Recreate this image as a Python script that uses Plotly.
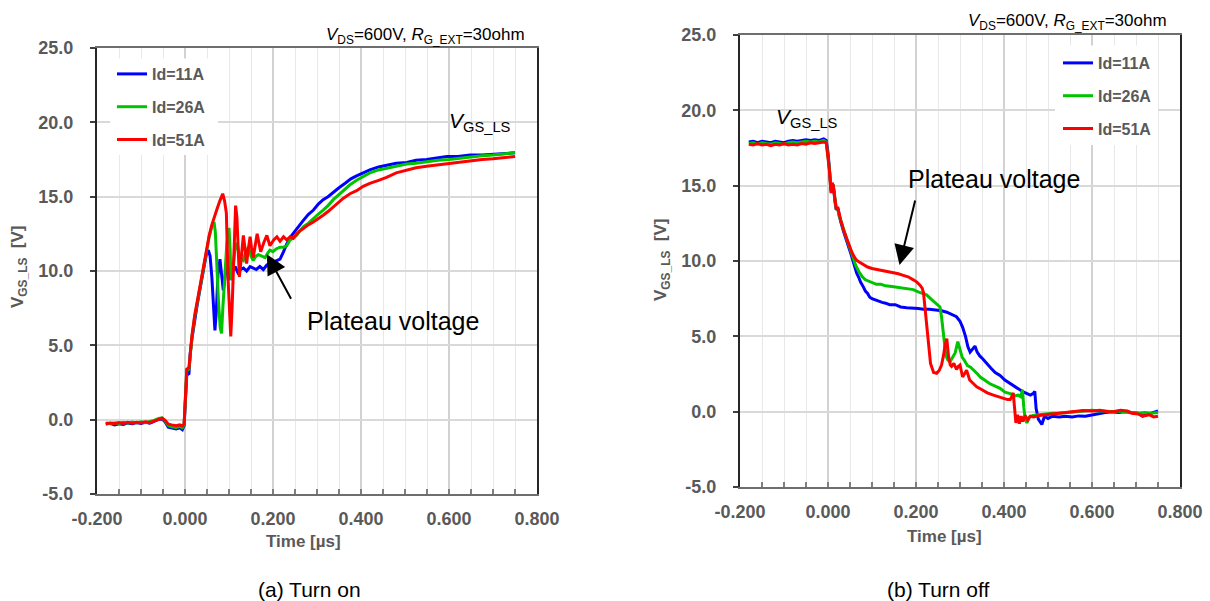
import plotly.graph_objects as go

# ---------------- DATA ----------------
# (a) Turn on : time [us], V_GS_LS [V]
t_on_11 = [-0.180, -0.170, -0.160, -0.150, -0.140, -0.130, -0.120, -0.110, -0.100, -0.090, -0.080, -0.070,
           -0.060, -0.052, -0.045, -0.038, -0.030, -0.020, -0.012, -0.006, -0.002, 0.001, 0.004, 0.009,
           0.012, 0.016, 0.022, 0.027, 0.033, 0.038, 0.044, 0.049, 0.053, 0.057, 0.061, 0.064, 0.068,
           0.071, 0.075, 0.0795, 0.083, 0.087, 0.091, 0.095, 0.100, 0.104, 0.109, 0.114, 0.120, 0.126,
           0.133, 0.140, 0.148, 0.155, 0.162, 0.170, 0.178, 0.186, 0.193, 0.200, 0.208, 0.216, 0.224,
           0.231, 0.240, 0.250, 0.260, 0.269, 0.280, 0.292, 0.303, 0.314, 0.325, 0.337, 0.350, 0.364,
           0.377, 0.390, 0.405, 0.420, 0.440, 0.458, 0.480, 0.504, 0.525, 0.549, 0.570, 0.595, 0.620,
           0.648, 0.675, 0.700, 0.725, 0.750]
v_on_11 = [-0.30, -0.25, -0.35, -0.28, -0.32, -0.22, -0.28, -0.20, -0.26, -0.18, -0.24, -0.12,
           0.02, 0.05, -0.15, -0.50, -0.55, -0.62, -0.55, -0.68, -0.40, 1.8, 3.0, 3.1,
           4.5, 5.5, 6.8, 7.6, 8.6, 9.4, 10.4, 11.2, 11.4, 11.0, 9.6, 8.0, 6.0,
           7.2, 9.8, 10.8, 10.0, 8.7, 9.6, 10.5, 10.2, 9.4, 10.0, 10.3, 9.9, 10.1,
           10.2, 10.0, 10.3, 10.2, 10.1, 10.3, 10.1, 10.4, 10.5, 10.6, 10.7, 10.8, 11.3,
           11.8, 12.3, 12.7, 13.1, 13.4, 13.8, 14.1, 14.5, 14.8, 15.0, 15.3, 15.6, 15.9,
           16.2, 16.4, 16.6, 16.8, 17.0, 17.1, 17.25, 17.3, 17.45, 17.5, 17.6, 17.7, 17.7,
           17.8, 17.8, 17.85, 17.9, 17.95]

t_on_26 = [-0.180, -0.170, -0.160, -0.150, -0.140, -0.130, -0.120, -0.110, -0.100, -0.090, -0.080, -0.070,
           -0.060, -0.052, -0.045, -0.038, -0.030, -0.020, -0.012, -0.006, -0.002, 0.001, 0.004, 0.009,
           0.012, 0.016, 0.022, 0.027, 0.033, 0.038, 0.044, 0.049, 0.055, 0.061, 0.066, 0.069, 0.072,
           0.076, 0.080, 0.083, 0.086, 0.090, 0.095, 0.100, 0.1025, 0.1045, 0.108, 0.1136, 0.118, 0.123,
           0.128, 0.1326, 0.138, 0.144, 0.150, 0.155, 0.161, 0.167, 0.175, 0.182, 0.188, 0.193, 0.200,
           0.208, 0.216, 0.224, 0.231, 0.239, 0.246, 0.254, 0.261, 0.270, 0.280, 0.290, 0.302, 0.314,
           0.325, 0.337, 0.348, 0.360, 0.375, 0.390, 0.405, 0.420, 0.440, 0.458, 0.480, 0.504, 0.525,
           0.549, 0.575, 0.600, 0.625, 0.648, 0.675, 0.700, 0.725, 0.750]
v_on_26 = [-0.22, -0.28, -0.22, -0.26, -0.18, -0.24, -0.16, -0.22, -0.15, -0.20, -0.12, -0.05,
           0.08, 0.12, -0.08, -0.40, -0.48, -0.52, -0.45, -0.55, -0.35, 2.0, 3.3, 3.4,
           4.6, 5.6, 6.9, 7.7, 8.7, 9.5, 10.5, 11.4, 12.3, 13.0, 13.3, 12.6, 10.5,
           8.0, 6.2, 5.8, 7.5, 9.8, 11.8, 12.9, 11.5, 9.4, 10.0, 11.4, 11.9, 11.2,
           10.8, 10.7, 11.3, 11.6, 11.0, 10.7, 11.0, 11.1, 11.0, 10.9, 11.2, 11.4, 11.3,
           11.5, 11.6, 11.6, 11.7, 12.1, 12.2, 12.4, 12.7, 13.0, 13.2, 13.5, 13.8, 14.1,
           14.4, 14.8, 15.1, 15.4, 15.8, 16.1, 16.35, 16.6, 16.8, 16.9, 17.05, 17.2, 17.25,
           17.35, 17.45, 17.5, 17.6, 17.65, 17.75, 17.8, 17.85, 17.95]

t_on_51 = [-0.180, -0.170, -0.160, -0.150, -0.140, -0.130, -0.120, -0.110, -0.100, -0.090, -0.080, -0.070,
           -0.060, -0.052, -0.045, -0.038, -0.030, -0.020, -0.012, -0.006, -0.002, 0.001, 0.004, 0.009,
           0.012, 0.016, 0.022, 0.027, 0.033, 0.038, 0.044, 0.049, 0.055, 0.061, 0.066, 0.072, 0.079,
           0.0857, 0.090, 0.094, 0.098, 0.101, 0.104, 0.107, 0.110, 0.113, 0.115, 0.118, 0.120, 0.1235,
           0.127, 0.1326, 0.136, 0.140, 0.144, 0.148, 0.151, 0.155, 0.160, 0.164, 0.168, 0.172, 0.179,
           0.186, 0.193, 0.202, 0.209, 0.216, 0.224, 0.231, 0.239, 0.246, 0.254, 0.261, 0.269, 0.280,
           0.2917, 0.303, 0.314, 0.325, 0.337, 0.348, 0.360, 0.375, 0.390, 0.405, 0.420, 0.440, 0.458,
           0.480, 0.504, 0.525, 0.549, 0.575, 0.600, 0.625, 0.648, 0.675, 0.700, 0.725, 0.750]
v_on_51 = [-0.28, -0.22, -0.26, -0.20, -0.25, -0.18, -0.24, -0.17, -0.22, -0.15, -0.20, -0.08,
           0.05, 0.10, -0.05, -0.30, -0.35, -0.40, -0.35, -0.42, -0.30, 2.2, 3.4, 3.5,
           4.7, 5.7, 7.0, 7.8, 8.8, 9.6, 10.6, 11.5, 12.4, 13.1, 13.6, 14.1, 14.7,
           15.2, 14.7, 13.9, 9.4, 7.0, 5.6, 7.5, 10.5, 13.5, 14.4, 13.6, 11.6, 9.6,
           10.6, 12.4, 11.6, 10.5, 11.5, 12.3, 11.6, 10.9, 11.8, 12.5, 11.9, 11.3, 11.9,
           12.4, 11.7, 12.1, 12.3, 12.0, 12.3, 12.1, 12.3, 12.2, 12.5, 12.7, 12.85, 13.1,
           13.3, 13.5, 13.75, 14.0, 14.3, 14.6, 14.9, 15.2, 15.4, 15.7, 15.9, 16.1, 16.3,
           16.6, 16.8, 16.95, 17.05, 17.15, 17.2, 17.3, 17.4, 17.5, 17.55, 17.6, 17.7]

# (b) Turn off : time [us], V_GS_LS [V]
t_off_11 = [-0.180, -0.170, -0.160, -0.150, -0.140, -0.130, -0.120, -0.110, -0.100, -0.090, -0.080, -0.070,
            -0.060, -0.050, -0.040, -0.030, -0.020, -0.010, -0.004, 0.000, 0.003, 0.007, 0.0095, 0.012,
            0.016, 0.019, 0.022, 0.025, 0.029, 0.036, 0.042, 0.048, 0.054, 0.059, 0.065, 0.070, 0.074,
            0.080, 0.085, 0.090, 0.095, 0.100, 0.108, 0.115, 0.123, 0.131, 0.140, 0.153, 0.165, 0.179,
            0.190, 0.205, 0.217, 0.230, 0.245, 0.258, 0.270, 0.282, 0.292, 0.300, 0.306, 0.3125, 0.318,
            0.323, 0.328, 0.334, 0.339, 0.345, 0.352, 0.360, 0.370, 0.380, 0.391, 0.402, 0.414, 0.425,
            0.436, 0.445, 0.452, 0.460, 0.466, 0.470, 0.473, 0.478, 0.486, 0.492, 0.500, 0.510, 0.525,
            0.540, 0.555, 0.570, 0.585, 0.600, 0.615, 0.630, 0.645, 0.660, 0.675, 0.690, 0.705, 0.715,
            0.725, 0.735, 0.745, 0.750]
v_off_11 = [17.9, 17.95, 17.85, 17.95, 17.9, 17.85, 17.95, 17.9, 17.85, 17.95, 18.0, 17.95,
            18.0, 18.05, 18.0, 18.05, 18.0, 18.1, 18.0, 17.2, 16.2, 14.7, 15.1, 15.0,
            13.9, 13.4, 13.5, 13.0, 12.6, 11.9, 11.4, 10.9, 10.3, 9.8, 9.2, 8.9, 8.6,
            8.3, 8.0, 7.85, 7.6, 7.5, 7.4, 7.3, 7.25, 7.2, 7.1, 7.1, 6.95, 6.9,
            6.9, 6.85, 6.8, 6.8, 6.75, 6.7, 6.6, 6.45, 6.3, 6.0, 5.6, 5.0, 4.3,
            3.95, 4.1, 4.35, 3.95, 3.7, 3.5, 3.2, 2.9, 2.6, 2.4, 2.1, 1.85, 1.65,
            1.45, 1.3, 1.2, 1.1, 1.2, 1.35, 0.2, -0.5, -0.85, -0.3, -0.45, -0.3, -0.35,
            -0.3, -0.35, -0.28, -0.3, -0.2, -0.15, -0.05, 0.0, -0.05, 0.0, -0.05, -0.1, -0.3,
            -0.2, -0.1, -0.05, 0.05]

t_off_26 = [-0.180, -0.170, -0.160, -0.150, -0.140, -0.130, -0.120, -0.110, -0.100, -0.090, -0.080, -0.070,
            -0.060, -0.050, -0.040, -0.030, -0.020, -0.010, -0.004, 0.000, 0.003, 0.007, 0.0095, 0.012,
            0.016, 0.019, 0.022, 0.025, 0.029, 0.036, 0.042, 0.048, 0.054, 0.059, 0.063, 0.070, 0.078,
            0.085, 0.093, 0.100, 0.110, 0.120, 0.131, 0.145, 0.158, 0.170, 0.182, 0.194, 0.205, 0.215,
            0.224, 0.235, 0.245, 0.2545, 0.258, 0.261, 0.264, 0.268, 0.272, 0.277, 0.283, 0.289, 0.295,
            0.300, 0.305, 0.310, 0.317, 0.324, 0.332, 0.340, 0.346, 0.356, 0.368, 0.380, 0.391, 0.402,
            0.414, 0.425, 0.432, 0.438, 0.442, 0.445, 0.448, 0.452, 0.458, 0.466, 0.480, 0.495, 0.510,
            0.525, 0.540, 0.555, 0.570, 0.585, 0.600, 0.615, 0.630, 0.645, 0.660, 0.675, 0.690, 0.705,
            0.720, 0.735, 0.750]
v_off_26 = [17.8, 17.85, 17.75, 17.85, 17.8, 17.75, 17.85, 17.8, 17.75, 17.85, 17.9, 17.85,
            17.9, 17.95, 17.9, 17.95, 17.9, 18.0, 17.9, 17.1, 16.2, 14.6, 15.1, 15.0,
            13.9, 13.4, 13.55, 13.0, 12.7, 12.0, 11.5, 11.0, 10.5, 10.1, 9.7, 9.3, 8.95,
            8.75, 8.65, 8.6, 8.45, 8.45, 8.35, 8.3, 8.25, 8.2, 8.15, 8.1, 7.95, 7.85,
            7.75, 7.45, 7.2, 6.95, 6.3, 5.4, 4.5, 3.7, 3.45, 3.3, 3.6, 3.9, 4.65,
            4.1, 3.6, 3.4, 3.05, 2.95, 2.75, 2.5, 2.3, 2.1, 1.85, 1.7, 1.55, 1.3,
            1.2, 1.05, 1.1, 1.0, 1.45, 0.3, -0.5, -0.75, -0.35, -0.25, -0.2, -0.15, -0.1,
            -0.1, -0.05, 0.0, 0.05, 0.05, 0.1, 0.05, 0.05, 0.0, 0.05, 0.0, -0.05, -0.1,
            -0.05, -0.1, -0.05]

t_off_51 = [-0.180, -0.170, -0.160, -0.150, -0.140, -0.130, -0.120, -0.110, -0.100, -0.090, -0.080, -0.070,
            -0.060, -0.050, -0.040, -0.030, -0.020, -0.010, -0.004, 0.000, 0.003, 0.007, 0.0095, 0.012,
            0.016, 0.019, 0.022, 0.025, 0.029, 0.036, 0.042, 0.048, 0.054, 0.059, 0.065, 0.070, 0.080,
            0.090, 0.100, 0.110, 0.118, 0.130, 0.146, 0.160, 0.171, 0.182, 0.194, 0.202, 0.209, 0.214,
            0.217, 0.220, 0.223, 0.228, 0.233, 0.240, 0.247, 0.253, 0.258, 0.263, 0.266, 0.270, 0.274,
            0.278, 0.281, 0.286, 0.292, 0.296, 0.300, 0.306, 0.315, 0.322, 0.330, 0.338, 0.350, 0.362,
            0.376, 0.390, 0.400, 0.408, 0.414, 0.418, 0.421, 0.424, 0.427, 0.431, 0.435, 0.439, 0.443,
            0.448, 0.454, 0.460, 0.467, 0.480, 0.495, 0.510, 0.525, 0.542, 0.560, 0.580, 0.600, 0.618,
            0.635, 0.650, 0.665, 0.680, 0.690, 0.705, 0.715, 0.730, 0.740, 0.750]
v_off_51 = [17.75, 17.7, 17.8, 17.7, 17.75, 17.65, 17.75, 17.7, 17.8, 17.7, 17.75, 17.7,
            17.8, 17.75, 17.85, 17.8, 17.85, 17.9, 17.85, 17.0, 16.1, 14.5, 15.2, 15.0,
            13.9, 13.4, 13.6, 13.1, 12.7, 12.0, 11.5, 11.1, 10.6, 10.3, 10.05, 9.95, 9.75,
            9.6, 9.5, 9.45, 9.4, 9.3, 9.25, 9.15, 9.05, 8.95, 8.75, 8.6, 8.4, 8.2,
            7.9, 7.0, 5.8, 4.5, 3.2, 2.6, 2.55, 2.75, 3.1, 3.8, 4.4, 4.85, 3.65,
            3.1, 3.0, 3.2, 2.8, 3.0, 3.1, 2.3, 2.75, 2.1, 1.9, 1.65, 1.45, 1.25,
            1.1, 0.95, 0.85, 0.8, 0.8, 1.0, 1.25, 0.2, -0.75, -0.2, -0.8, -0.3, -0.65,
            -0.25, -0.55, -0.3, -0.35, -0.25, -0.2, -0.15, -0.1, 0.0, 0.05, 0.08, 0.05, 0.1,
            0.0, 0.0, 0.1, 0.05, -0.1, -0.15, -0.3, -0.2, -0.35, -0.3]

series_names = ["Id=11A", "Id=26A", "Id=51A"]
series_colors = ["#0000FF", "#00C400", "#FF0000"]

x_tickvals = [-0.2, 0.0, 0.2, 0.4, 0.6, 0.8]
x_ticktext = ["-0.200", "0.000", "0.200", "0.400", "0.600", "0.800"]
y_tickvals = [-5, 0, 5, 10, 15, 20, 25]
y_ticktext = ["-5.0", "0.0", "5.0", "10.0", "15.0", "20.0", "25.0"]

# ---------------- FIGURE ----------------
W, H = 1210, 601
FONT = "Liberation Sans, Arial, sans-serif"
GRAY = "#595959"


def px(x):
    return x / W


def py(y):
    return 1 - y / H


fig = go.Figure()

on_series = [(t_on_11, v_on_11), (t_on_26, v_on_26), (t_on_51, v_on_51)]
off_series = [(t_off_11, v_off_11), (t_off_26, v_off_26), (t_off_51, v_off_51)]

for i, (t, v) in enumerate(on_series):
    fig.add_trace(go.Scatter(x=t, y=v, mode="lines", name=series_names[i],
                             line=dict(color=series_colors[i], width=3),
                             xaxis="x", yaxis="y", legend="legend",
                             legendgroup="on%d" % i))
for i, (t, v) in enumerate(off_series):
    fig.add_trace(go.Scatter(x=t, y=v, mode="lines", name=series_names[i],
                             line=dict(color=series_colors[i], width=3),
                             xaxis="x2", yaxis="y2", legend="legend2",
                             legendgroup="off%d" % i))

xaxis_common = dict(range=[-0.2, 0.8], tickvals=x_tickvals, ticktext=x_ticktext,
                    showgrid=True, gridcolor="#d2d2d2", gridwidth=1.5,
                    ticks="inside", ticklen=5, tickcolor="#7f7f7f", tickwidth=1.5,
                    minor=dict(dtick=0.05, tick0=-0.2, showgrid=True, gridcolor="#e8e8e8",
                               gridwidth=1, ticks="inside", ticklen=5, tickcolor="#7f7f7f"),
                    showline=True, linecolor="#6e6e6e", linewidth=2, mirror=True,
                    zeroline=False, fixedrange=True, automargin=False,
                    tickfont=dict(family=FONT, size=18, color=GRAY, weight="bold"),
                    ticklabelstandoff=7)
yaxis_common = dict(range=[-5, 25], tickvals=y_tickvals, ticktext=y_ticktext,
                    showgrid=True, gridcolor="#d9d9d9", gridwidth=1.5,
                    ticks="outside", ticklen=5, tickcolor="#404040", tickwidth=1.5,
                    showline=True, linecolor="#262626", linewidth=2, mirror=True,
                    zeroline=False, fixedrange=True, automargin=False,
                    tickfont=dict(family=FONT, size=18, color=GRAY, weight="bold"),
                    ticklabelstandoff=13)

legend_font = dict(family=FONT, size=16, color=GRAY, weight="bold")
fig.update_layout(
    width=W, height=H,
    margin=dict(l=0, r=0, t=0, b=0, autoexpand=False),
    paper_bgcolor="white", plot_bgcolor="white",
    font=dict(family=FONT, size=17, color=GRAY),
    xaxis=dict(domain=[px(97), px(537)], anchor="y", **xaxis_common),
    yaxis=dict(domain=[py(494), py(48)], anchor="x", **yaxis_common),
    xaxis2=dict(domain=[px(740), px(1180)], anchor="y2", **xaxis_common),
    yaxis2=dict(domain=[py(487), py(35)], anchor="x2", **yaxis_common),
    legend=dict(x=px(112), y=py(57), xanchor="left", yanchor="top", bgcolor="rgba(0,0,0,0)",
                font=legend_font, tracegroupgap=9, traceorder="grouped", itemwidth=30),
    legend2=dict(x=px(1058), y=py(46), xanchor="left", yanchor="top", bgcolor="rgba(0,0,0,0)",
                 font=legend_font, tracegroupgap=9, traceorder="grouped", itemwidth=30),
    showlegend=True,
)

# white boxes behind the legends (they hide the gridlines, as in the reference)
fig.add_shape(type="rect", xref="x", yref="y", x0=-0.170, x1=0.075, y0=17.8, y1=24.3,
              fillcolor="white", line=dict(width=0), layer="between")
fig.add_shape(type="rect", xref="x2", yref="y2", x0=0.516, x1=0.75, y0=17.7, y1=24.3,
              fillcolor="white", line=dict(width=0), layer="between")

ann = []
# condition labels
ann.append(dict(text="<i>V</i><sub>DS</sub>=600V, <i>R</i><sub>G_EXT</sub>=30ohm",
                x=px(527), y=py(36), xanchor="right", yanchor="middle",
                font=dict(family=FONT, size=17, color="black")))
ann.append(dict(text="<i>V</i><sub>DS</sub>=600V, <i>R</i><sub>G_EXT</sub>=30ohm",
                x=px(1169), y=py(22), xanchor="right", yanchor="middle",
                font=dict(family=FONT, size=17, color="black")))
# V_GS_LS labels
ann.append(dict(text="<i>V</i><sub>GS_LS</sub>", x=px(447), y=py(122), xanchor="left", yanchor="middle",
                font=dict(family=FONT, size=21, color="black")))
ann.append(dict(text="<i>V</i><sub>GS_LS</sub>", x=px(774), y=py(118), xanchor="left", yanchor="middle",
                font=dict(family=FONT, size=21, color="black")))
# Plateau voltage text
ann.append(dict(text="Plateau voltage", x=px(393), y=py(321), xanchor="center", yanchor="middle",
                font=dict(family=FONT, size=25, color="black")))
ann.append(dict(text="Plateau voltage", x=px(994), y=py(179), xanchor="center", yanchor="middle",
                font=dict(family=FONT, size=25, color="black")))
# axis titles
ann.append(dict(text="<b>Time [µs]</b>", x=px(303), y=py(541), xanchor="center", yanchor="middle",
                font=dict(family=FONT, size=17, color=GRAY)))
ann.append(dict(text="<b>Time [µs]</b>", x=px(945), y=py(536), xanchor="center", yanchor="middle",
                font=dict(family=FONT, size=17, color=GRAY)))
ann.append(dict(text="<b>V<sub>GS_LS</sub>  [V]</b>", x=px(19), y=py(267), xanchor="center", yanchor="middle",
                textangle=-90, font=dict(family=FONT, size=17, color=GRAY)))
ann.append(dict(text="<b>V<sub>GS_LS</sub>  [V]</b>", x=px(662), y=py(260), xanchor="center", yanchor="middle",
                textangle=-90, font=dict(family=FONT, size=17, color=GRAY)))
# captions
ann.append(dict(text="(a) Turn on", x=px(309), y=py(589), xanchor="center", yanchor="middle",
                font=dict(family=FONT, size=21, color="black")))
ann.append(dict(text="(b) Turn off", x=px(938), y=py(589), xanchor="center", yanchor="middle",
                font=dict(family=FONT, size=21, color="black")))
for a in ann:
    a.update(xref="paper", yref="paper", showarrow=False)

# arrows pointing to the plateau
ann.append(dict(text="", x=0.186, y=11.13, xref="x", yref="y", showarrow=True,
                ax=25, ay=46, arrowhead=2, arrowsize=2, arrowwidth=2, arrowcolor="black",
                font=dict(family=FONT, size=17)))
ann.append(dict(text="", x=0.1625, y=9.73, xref="x2", yref="y2", showarrow=True,
                ax=16, ay=-66, arrowhead=2, arrowsize=2, arrowwidth=2, arrowcolor="black",
                font=dict(family=FONT, size=17)))

fig.update_layout(annotations=ann)

fig.write_html("out.html", config={"displayModeBar": False},
               post_script="document.body.style.margin='0';document.body.style.overflow='hidden';")
